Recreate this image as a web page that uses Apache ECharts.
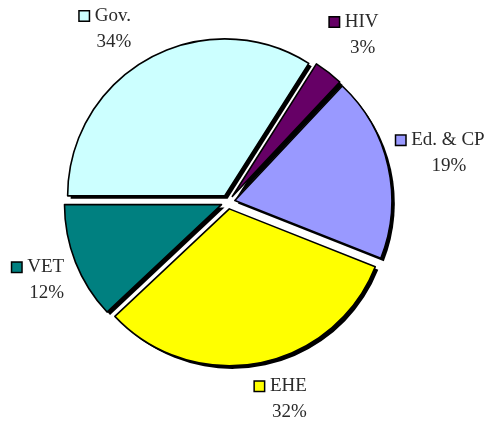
<!DOCTYPE html>
<html>
<head>
<meta charset="utf-8">
<script src="https://cdn.jsdelivr.net/npm/echarts@6/dist/echarts.min.js"></script>
<style>
    html, body { margin: 0; padding: 0; background: #fff; }
    #chart { width: 488px; height: 421px; }
</style>
</head>
<body>
<div id="chart"></div>
<script>
// slices, clockwise from the left edge
const names = ['Gov.', 'HIV', 'Ed. & CP', 'EHE', 'VET'];
const shares = [34, 3, 19, 32, 12];
const colors = ['#CCFFFF', '#660066', '#9999FF', '#FFFF00', '#008080'];

const cx = 228;
const cy = 202;
const radius = 157;
const labelDist = 210;
const startAngle = 180;
// small per-label nudges, like the spreadsheet's own label placement
const labelNudge = [[-13, 11], [6, -1], [16, -3], [22, -9], [14, 1]];

const chart = echarts.init(document.getElementById('chart'));

const total = shares.reduce((a, b) => a + b, 0);
const midAngles = [];
let acc = 0;
shares.forEach(v => {
    midAngles.push(startAngle - (acc + v / 2) / total * 360);
    acc += v;
});

const font = { fontSize: 19, lineHeight: 26, fill: '#2a2a2a', color: '#2a2a2a', fontFamily: 'Liberation Serif' };
const rich = {
    gap: { width: 6 },
    sp: { width: 17 },
    name: font,
    pct: font
};
colors.forEach((c, i) => {
    rich['box' + i] = {
        width: 9,
        height: 9,
        backgroundColor: c,
        borderColor: '#000',
        borderWidth: 1.5
    };
});

// labels sit on each slice's middle angle, outside the pie
const labels = names.map((n, i) => {
    const a = midAngles[i] * Math.PI / 180;
    return {
        type: 'text',
        silent: true,
        x: cx + labelDist * Math.cos(a) + labelNudge[i][0],
        y: cy - labelDist * Math.sin(a) + labelNudge[i][1],
        style: {
            text: `{box${i}|}{gap|}{name|${n}}{sp|}\n{pct|${Math.round(shares[i] / total * 100)}%}`,
            rich: rich,
            align: 'center',
            verticalAlign: 'middle',
            textAlign: 'center',
            textVerticalAlign: 'middle'
        }
    };
});

const baseSeries = {
    type: 'pie',
    radius: radius,
    startAngle: startAngle,
    clockwise: true,
    selectedMode: 'multiple',
    selectedOffset: 7,
    emphasis: { scale: false },
    label: { show: false },
    labelLine: { show: false }
};

chart.setOption({
    animation: false,
    graphic: labels,
    series: [
        // black drop shadow, the same slices moved down and right
        Object.assign({}, baseSeries, {
            center: [cx + 3, cy + 3],
            silent: true,
            itemStyle: { color: '#000', borderWidth: 0 },
            data: names.map((n, i) => ({ name: n, value: shares[i], selected: true }))
        }),
        Object.assign({}, baseSeries, {
            center: [cx, cy],
            itemStyle: {
                borderColor: '#000',
                borderWidth: 1.6
            },
            data: names.map((n, i) => ({
                name: n,
                value: shares[i],
                selected: true,
                itemStyle: { color: colors[i] }
            }))
        })
    ]
});

window.addEventListener('resize', () => chart.resize());
</script>
</body>
</html>
